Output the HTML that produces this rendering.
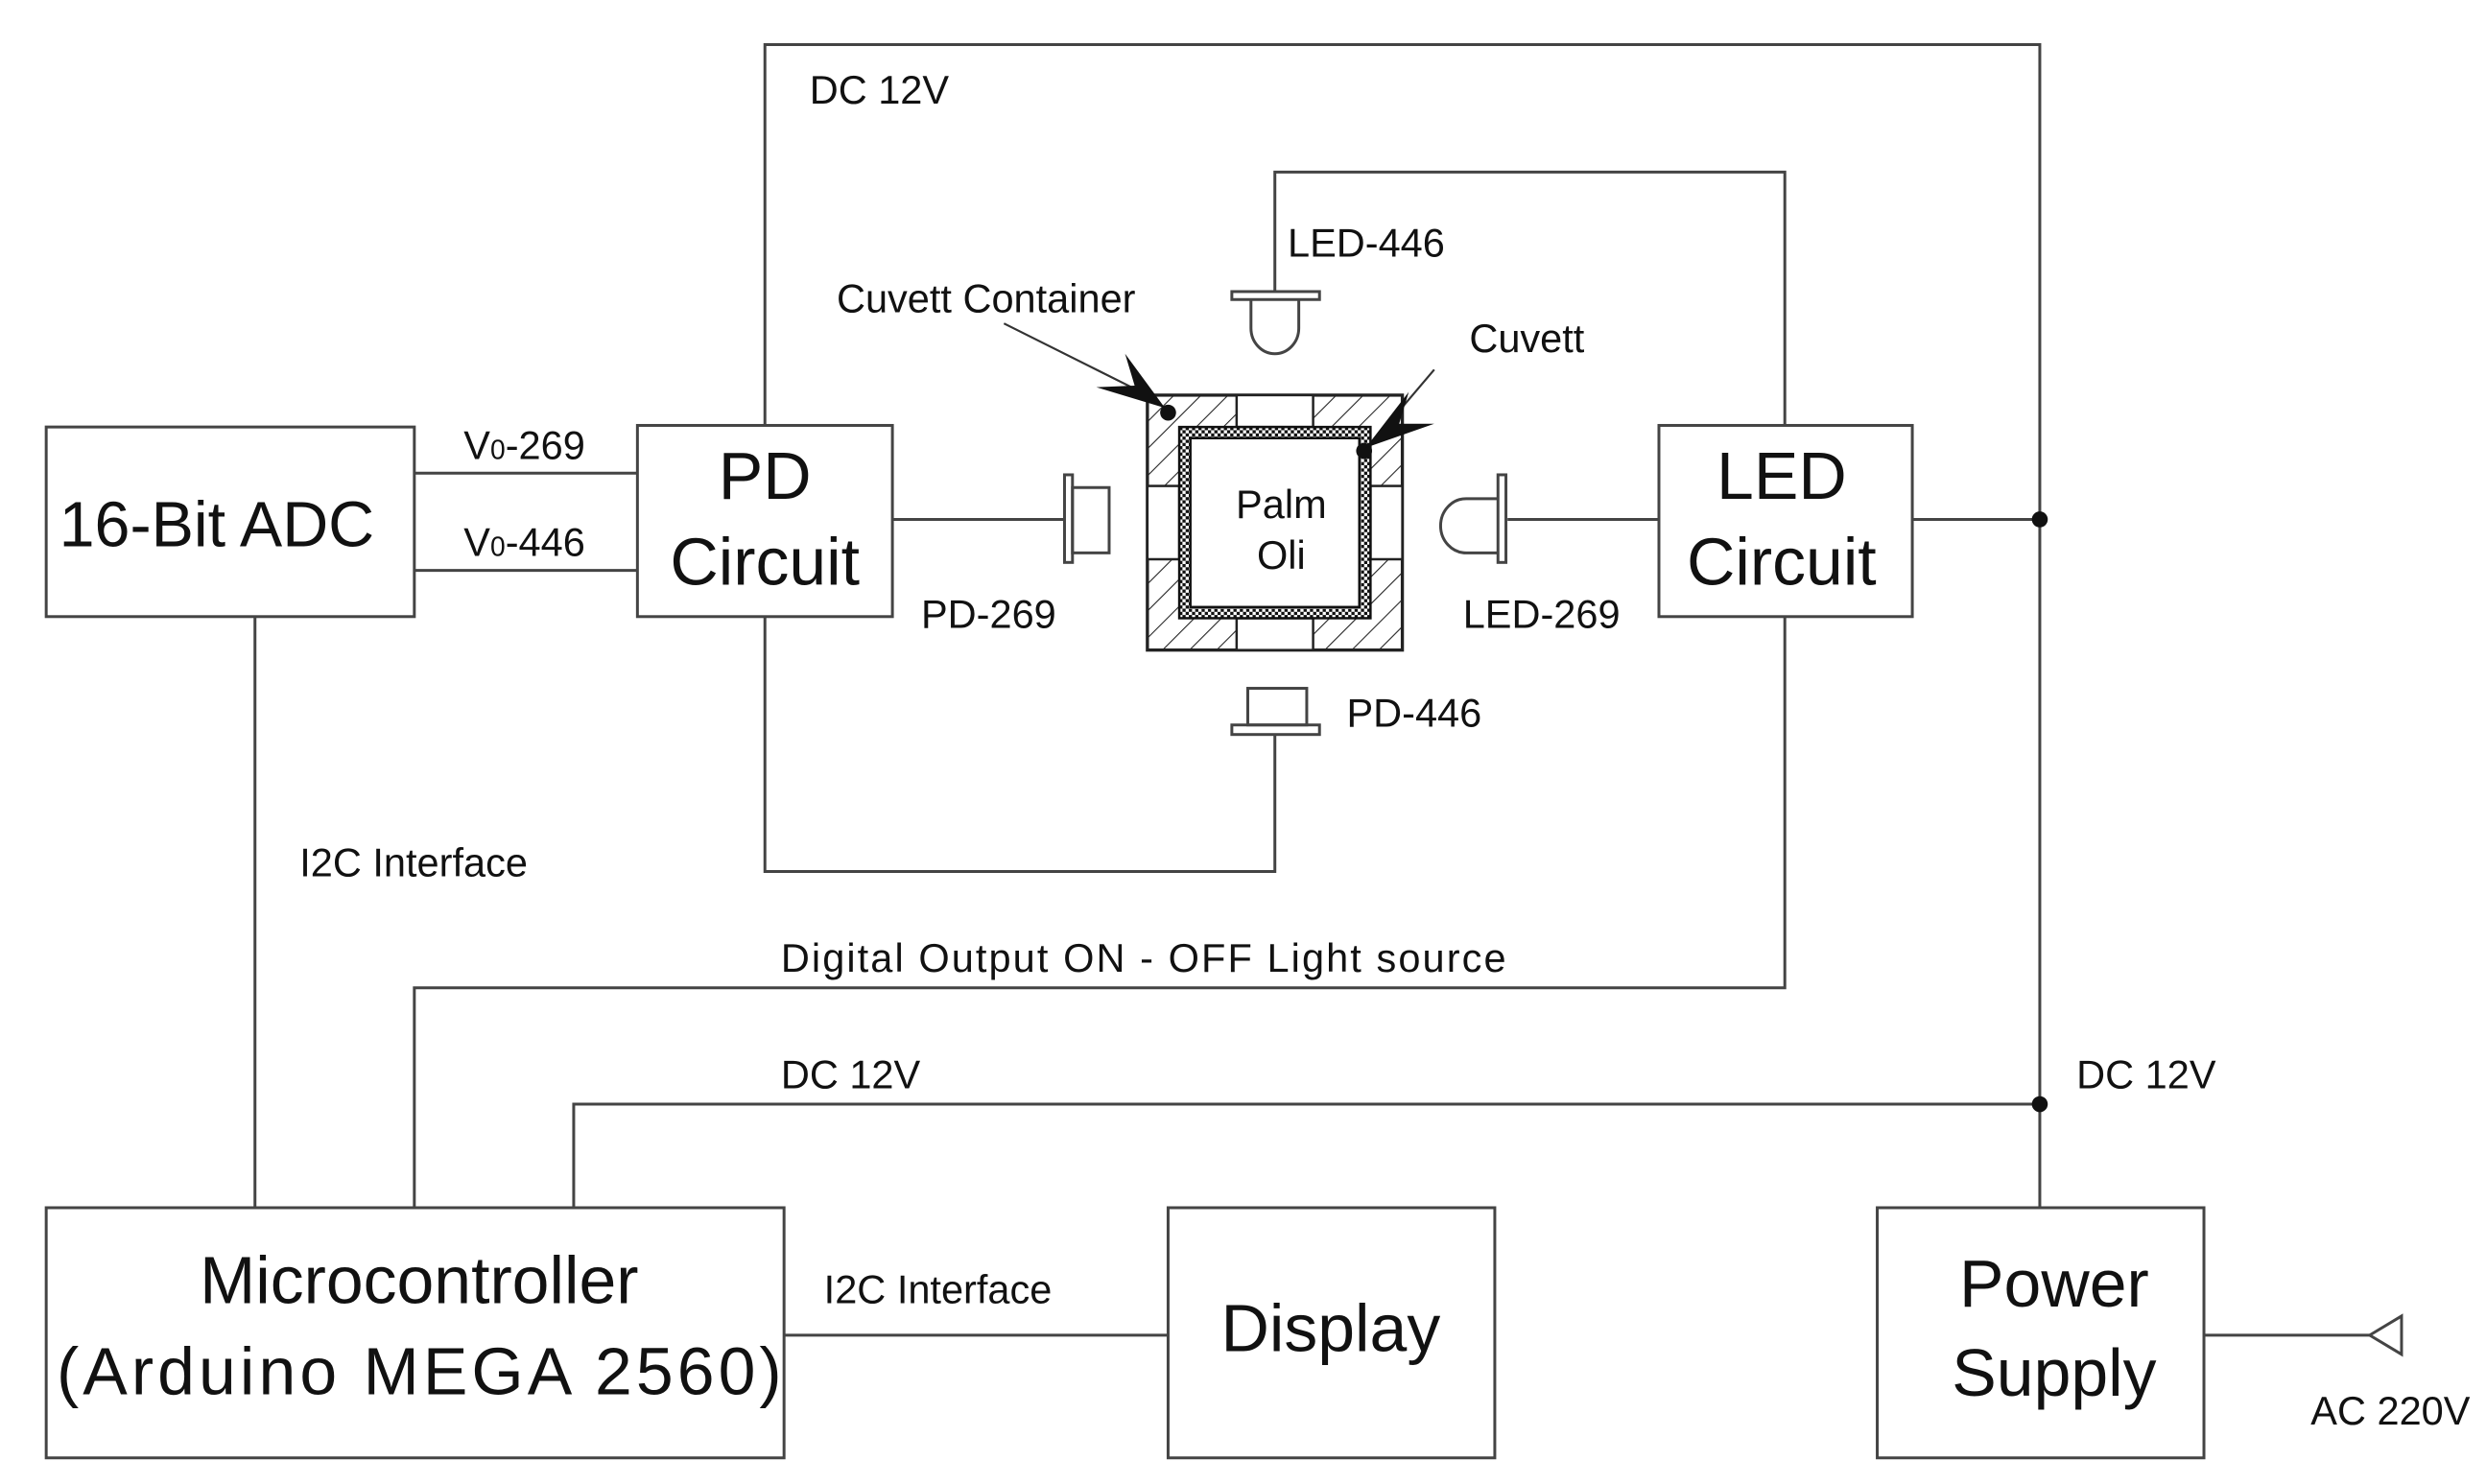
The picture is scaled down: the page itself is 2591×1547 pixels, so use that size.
<!DOCTYPE html>
<html><head><meta charset="utf-8"><style>
html,body{margin:0;padding:0;background:#fff;}
svg{display:block;}
text{font-family:"Liberation Sans",sans-serif;fill:#111;}
</style></head><body>
<svg width="2591" height="1547" viewBox="0 0 1560 931.4" preserveAspectRatio="none" xmlns="http://www.w3.org/2000/svg">
<defs>
<pattern id="hatch" width="12" height="12" patternUnits="userSpaceOnUse" patternTransform="rotate(45)">
<line x1="0" y1="0" x2="0" y2="12" stroke="#222" stroke-width="1.3"/>
</pattern>
<pattern id="chk" width="4" height="4" patternUnits="userSpaceOnUse">
<rect width="4" height="4" fill="#fff"/>
<rect width="2" height="2" fill="#111"/><rect x="2" y="2" width="2" height="2" fill="#111"/>
</pattern>
</defs>
<g fill="none" stroke="#444" stroke-width="1.8">
<polyline points="480,267 480,28 1280,28 1280,758"/>
<polyline points="480,387 480,547 800,547 800,461"/>
<polyline points="800,183 800,108 1120,108 1120,267"/>
<polyline points="1120,387 1120,620 260,620 260,758"/>
<polyline points="360,758 360,693 1280,693"/>
<rect x="29" y="268" width="231" height="119"/>
<rect x="400" y="267" width="160" height="120"/>
<rect x="1041" y="267" width="159" height="120"/>
<rect x="29" y="758" width="463" height="157"/>
<rect x="733" y="758" width="205" height="157"/>
<rect x="1178" y="758" width="205" height="157"/>
<line x1="260" y1="297" x2="400" y2="297"/>
<line x1="260" y1="358" x2="400" y2="358"/>
<line x1="560" y1="326" x2="668" y2="326"/>
<line x1="946" y1="326" x2="1041" y2="326"/>
<line x1="1200" y1="326" x2="1280" y2="326"/>
<line x1="160" y1="387" x2="160" y2="758"/>
<line x1="492" y1="838" x2="733" y2="838"/>
<line x1="1383" y1="838" x2="1487" y2="838"/>
<polygon points="1487,838 1507,826 1507,850"/>
<rect x="668" y="298" width="5" height="55"/>
<rect x="673" y="306" width="23" height="41"/>
<rect x="940" y="298" width="5" height="55"/>
<path d="M940,313 H920 A16,17 0 0 0 920,347 H940"/>
<rect x="773" y="183" width="55" height="5"/>
<path d="M785,188 V206 A15,16 0 0 0 815,206 V188"/>
<rect x="783" y="432" width="37" height="23"/>
<rect x="773" y="455" width="55" height="6"/>
</g>
<rect x="720" y="248" width="160" height="160" fill="url(#hatch)" stroke="#222" stroke-width="2"/>
<g fill="#fff" stroke="#222" stroke-width="1.5">
<rect x="776" y="248" width="48" height="20"/>
<rect x="776" y="388" width="48" height="20"/>
<rect x="720" y="305" width="20" height="46"/>
<rect x="860" y="305" width="20" height="46"/>
</g>
<rect x="740" y="268" width="120" height="120" fill="url(#chk)" stroke="#111" stroke-width="1.5"/>
<rect x="747" y="275" width="106" height="106" fill="#fff" stroke="#111" stroke-width="1.5"/>
<circle cx="733" cy="259" r="5" fill="#111"/>
<circle cx="856" cy="283" r="5" fill="#111"/>
<g stroke="#333" stroke-width="1.3">
<line x1="630" y1="203" x2="720" y2="248"/>
<line x1="900" y1="232" x2="866" y2="272"/>
</g>
<polygon points="731,256 706,222 712,242 688,243" fill="#111"/>
<polygon points="857,281 884,246 878,266 900,266" fill="#111"/>
<g font-size="25">
<text x="508" y="65">DC 12V</text>
<text x="808" y="161">LED-446</text>
<text x="525" y="196">Cuvett Container</text>
<text x="922" y="221">Cuvett</text>
<text x="291" y="288">V<tspan font-size="17">0</tspan>-269</text>
<text x="291" y="349">V<tspan font-size="17">0</tspan>-446</text>
<text x="578" y="394">PD-269</text>
<text x="918" y="394">LED-269</text>
<text x="845" y="456">PD-446</text>
<text x="188" y="550">I2C Interface</text>
<text x="490" y="610" textLength="455">Digital Output ON - OFF Light source</text>
<text x="490" y="683">DC 12V</text>
<text x="1303" y="683">DC 12V</text>
<text x="517" y="818">I2C Interface</text>
<text x="1450" y="894">AC 220V</text>
</g>
<text x="804" y="325" font-size="25" text-anchor="middle">Palm</text>
<text x="804" y="357" font-size="25" text-anchor="middle">Oli</text>
<text x="136" y="343" font-size="40" text-anchor="middle">16-Bit ADC</text>
<g font-size="42" text-anchor="middle">
<text x="480" y="313">PD</text>
<text x="480" y="367">Circuit</text>
<text x="1118" y="313">LED</text>
<text x="1118" y="367">Circuit</text>
<text x="263" y="818">Microcontroller</text>
<text x="263" y="875" textLength="455">(Arduino MEGA 2560)</text>
<text x="835" y="848">Display</text>
<text x="1289" y="820">Power</text>
<text x="1289" y="876">Supply</text>
</g>
<circle cx="1280" cy="326" r="5" fill="#111"/>
<circle cx="1280" cy="693" r="5" fill="#111"/>
</svg>
</body></html>
